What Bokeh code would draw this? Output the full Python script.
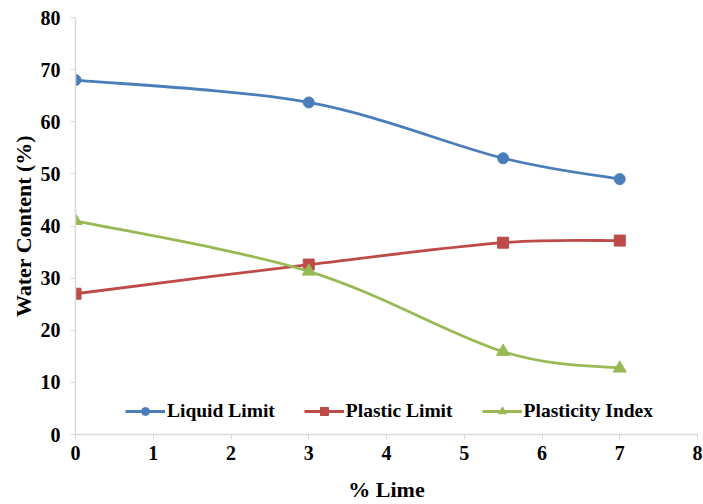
import numpy as np
from bokeh.plotting import figure
from bokeh.models import Legend, LegendItem, Range1d, FixedTicker
from bokeh.embed import file_html
from bokeh.resources import INLINE

lime = [0, 3, 5.5, 7]
liquid_limit = [68.0, 63.7, 53.0, 49.0]
plastic_limit = [27.0, 32.6, 36.8, 37.2]
plasticity_index = [41.0, 31.3, 15.9, 12.7]
x_ticks = [0, 1, 2, 3, 4, 5, 6, 7, 8]
y_ticks = [0, 10, 20, 30, 40, 50, 60, 70, 80]

FONT = "Liberation Serif"

p = figure(width=703, height=504, output_backend="svg", toolbar_location=None,
           x_range=Range1d(0, 8), y_range=Range1d(0, 80),
           min_border_left=75, min_border_right=6, min_border_top=17, min_border_bottom=70)
p.outline_line_color = None
p.xgrid.visible = False
p.ygrid.visible = False

for ax in (p.xaxis[0], p.yaxis[0]):
    ax.axis_line_color = "#d9d9d9"
    ax.axis_line_width = 1.5
    ax.major_tick_line_color = "#d9d9d9"
    ax.major_tick_out = 5
    ax.major_tick_in = 0
    ax.minor_tick_line_color = None
    ax.major_label_text_font = FONT
    ax.major_label_text_font_style = "bold"
    ax.major_label_text_font_size = "20px"
    ax.major_label_text_color = "black"
    ax.axis_label_text_font = FONT
    ax.axis_label_text_font_style = "bold"
    ax.axis_label_text_font_size = "22px"
    ax.axis_label_text_color = "black"

p.xaxis.ticker = FixedTicker(ticks=x_ticks)
p.yaxis.ticker = FixedTicker(ticks=y_ticks)
p.xaxis.axis_label = "% Lime"
p.yaxis.axis_label = "Water Content (%)"
p.xaxis.major_label_standoff = 6
p.yaxis.major_label_standoff = 10
p.xaxis.axis_label_standoff = 14
p.yaxis.axis_label_standoff = 2


def smooth_segments(xs, ys):
    xs = np.asarray(xs, float)
    ys = np.asarray(ys, float)
    n = len(xs)
    x0, y0, x1, y1, cx0, cy0, cx1, cy1 = ([] for _ in range(8))
    for i in range(n - 1):
        pm = i - 1 if i > 0 else i
        pp = i + 2 if i + 2 < n else i + 1
        x0.append(xs[i]); y0.append(ys[i])
        x1.append(xs[i + 1]); y1.append(ys[i + 1])
        cx0.append(xs[i] + (xs[i + 1] - xs[pm]) / 6)
        cy0.append(ys[i] + (ys[i + 1] - ys[pm]) / 6)
        cx1.append(xs[i + 1] - (xs[pp] - xs[i]) / 6)
        cy1.append(ys[i + 1] - (ys[pp] - ys[i]) / 6)
    return dict(x0=x0, y0=y0, x1=x1, y1=y1, cx0=cx0, cy0=cy0, cx1=cx1, cy1=cy1)


series = [
    ("Liquid Limit", liquid_limit, "#4a7ebb", "circle", 11),
    ("Plastic Limit", plastic_limit, "#be4b48", "square", 11),
    ("Plasticity Index", plasticity_index, "#98b954", "triangle", 13),
]

items = []
for name, ys, color, marker, size in series:
    s = smooth_segments(lime, ys)
    p.bezier(x0=s["x0"], y0=s["y0"], x1=s["x1"], y1=s["y1"],
             cx0=s["cx0"], cy0=s["cy0"], cx1=s["cx1"], cy1=s["cy1"],
             line_color=color, line_width=2.8)
    ln = p.line(x=[np.nan, np.nan], y=[np.nan, np.nan], line_color=color, line_width=2.8)
    sc = p.scatter(lime, ys, marker=marker, size=size, fill_color=color, line_color=color)
    items.append(LegendItem(label=name, renderers=[ln, sc]))

legend = Legend(items=items, orientation="horizontal", location=(50, 12),
                border_line_color=None, background_fill_alpha=0,
                label_text_font=FONT, label_text_font_style="bold",
                label_text_font_size="19.5px", label_text_color="black",
                glyph_width=40, spacing=29, label_standoff=2, padding=4)
p.add_layout(legend, "center")

open("out.html", "w").write(file_html(p, INLINE))
